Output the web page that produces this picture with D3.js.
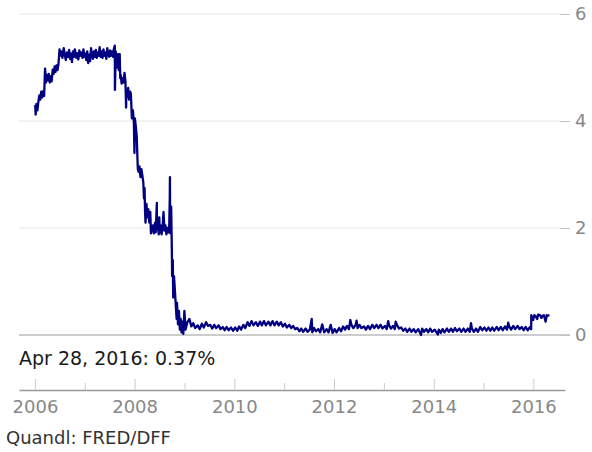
<!DOCTYPE html>
<meta charset="utf-8">
<style>
body { margin: 0; background: #fff; }
svg text { font-family: "DejaVu Sans", sans-serif; }
.yaxis text, .xaxis text { fill: #888; font-size: 18px; }
</style>
<script src="https://d3js.org/d3.v7.min.js"></script>
<div id="chart"></div>
<script>

// effective federal funds rate (date, percent)
var rateSeries = [
  ["2006-01-03",4.30],["2006-01-06",4.12],["2006-01-12",4.32],["2006-01-19",4.20],["2006-01-26",4.36],
  ["2006-02-02",4.48],["2006-02-09",4.40],["2006-02-16",4.55],["2006-02-23",4.44],["2006-03-02",4.56],
  ["2006-03-09",4.47],["2006-03-16",4.98],["2006-03-23",4.72],["2006-03-29",4.86],["2006-04-05",4.76],
  ["2006-04-12",4.88],["2006-04-19",4.72],["2006-04-26",4.84],["2006-05-03",4.74],["2006-05-11",4.96],
  ["2006-05-18",4.88],["2006-05-25",5.02],["2006-06-01",4.92],["2006-06-08",5.04],["2006-06-15",4.95],
  ["2006-06-22",5.06],["2006-06-30",5.34],
  ["2006-07-06",5.22],["2006-07-14",5.30],["2006-07-21",5.18],["2006-07-31",5.36],["2006-08-07",5.24],
  ["2006-08-15",5.14],["2006-08-23",5.28],["2006-08-31",5.20],["2006-09-08",5.33],["2006-09-15",5.16],
  ["2006-09-22",5.26],["2006-09-29",5.10],["2006-10-06",5.30],["2006-10-13",5.20],["2006-10-20",5.34],
  ["2006-10-31",5.18],["2006-11-07",5.27],["2006-11-15",5.15],["2006-11-22",5.32],["2006-11-30",5.22],
  ["2006-12-07",5.28],["2006-12-15",5.18],["2006-12-22",5.34],["2006-12-29",5.20],
  ["2007-01-05",5.26],["2007-01-12",5.14],["2007-01-19",5.30],["2007-01-26",5.08],["2007-02-02",5.24],
  ["2007-02-09",5.12],["2007-02-16",5.36],["2007-02-23",5.22],["2007-03-02",5.16],["2007-03-09",5.30],
  ["2007-03-16",5.20],["2007-03-23",5.33],["2007-03-30",5.18],["2007-04-06",5.28],["2007-04-13",5.22],
  ["2007-04-20",5.38],["2007-04-27",5.20],["2007-05-04",5.30],["2007-05-11",5.18],["2007-05-18",5.34],
  ["2007-05-25",5.22],["2007-06-01",5.28],["2007-06-08",5.16],["2007-06-15",5.36],["2007-06-22",5.24],
  ["2007-06-29",5.20],["2007-07-06",5.32],["2007-07-13",5.22],["2007-07-20",5.30],["2007-07-27",5.20],
  ["2007-08-03",5.36],["2007-08-09",5.41],["2007-08-10",4.58],["2007-08-16",5.30],["2007-08-23",5.00],
  ["2007-08-31",5.25],["2007-09-07",4.95],["2007-09-14",5.25],["2007-09-18",4.80],["2007-09-21",4.86],
  ["2007-09-28",4.70],["2007-10-05",4.80],["2007-10-12",4.72],["2007-10-19",4.90],["2007-10-26",4.74],
  ["2007-10-31",4.25],["2007-11-01",4.55],["2007-11-08",4.45],["2007-11-15",4.62],["2007-11-21",4.40],
  ["2007-11-30",4.55],["2007-12-05",4.50],["2007-12-12",4.05],["2007-12-20",4.20],["2007-12-27",3.95],
  ["2007-12-31",3.40],["2008-01-03",4.05],["2008-01-10",3.90],["2008-01-17",3.70],["2008-01-22",3.30],
  ["2008-01-25",3.10],["2008-01-30",3.05],["2008-02-06",3.15],["2008-02-13",2.95],["2008-02-20",3.10],
  ["2008-02-27",2.98],["2008-03-05",2.85],["2008-03-10",2.55],["2008-03-14",2.75],["2008-03-18",2.30],
  ["2008-03-21",2.10],["2008-03-28",2.45],["2008-04-04",2.20],["2008-04-11",2.35],["2008-04-18",2.10],
  ["2008-04-25",2.30],["2008-04-30",1.90],["2008-05-07",1.98],["2008-05-14",2.05],["2008-05-21",1.90],
  ["2008-05-30",2.10],["2008-06-04",1.92],["2008-06-12",2.47],["2008-06-13",1.98],["2008-06-19",2.05],
  ["2008-06-26",1.88],["2008-06-30",2.20],["2008-07-03",1.92],["2008-07-10",2.05],["2008-07-17",1.88],
  ["2008-07-24",2.02],["2008-07-31",2.30],["2008-08-07",1.95],["2008-08-14",2.05],["2008-08-21",1.88],
  ["2008-08-28",2.00],["2008-09-04",1.92],["2008-09-11",2.05],["2008-09-15",2.60],["2008-09-16",2.95],
  ["2008-09-18",1.90],["2008-09-19",2.10],["2008-09-25",2.40],["2008-09-30",1.60],["2008-10-02",1.10],
  ["2008-10-07",1.40],["2008-10-10",0.70],["2008-10-16",1.10],["2008-10-22",0.85],["2008-10-29",0.55],
  ["2008-11-04",0.30],["2008-11-07",0.60],["2008-11-14",0.20],["2008-11-21",0.45],["2008-11-28",0.10],
  ["2008-12-04",0.30],["2008-12-10",0.05],["2008-12-17",0.25],["2008-12-23",0.02],["2008-12-31",0.45],
  ["2009-01-08",0.10],["2009-01-22",0.24],["2009-02-06",0.30],["2009-02-20",0.16],["2009-03-06",0.22],
  ["2009-03-20",0.13],["2009-04-08",0.18],["2009-04-22",0.11],["2009-05-08",0.21],["2009-05-22",0.14],
  ["2009-06-08",0.24],["2009-06-22",0.17],["2009-07-08",0.19],["2009-07-22",0.12],["2009-08-07",0.19],
  ["2009-08-21",0.13],["2009-09-08",0.18],["2009-09-22",0.11],["2009-10-08",0.15],["2009-10-22",0.09],
  ["2009-11-06",0.15],["2009-11-20",0.09],["2009-12-08",0.14],["2009-12-22",0.08],
  ["2010-01-08",0.14],["2010-01-22",0.08],["2010-02-05",0.16],["2010-02-19",0.10],["2010-03-08",0.19],
  ["2010-03-22",0.13],["2010-04-08",0.24],["2010-04-22",0.17],["2010-05-07",0.26],["2010-05-21",0.18],
  ["2010-06-08",0.24],["2010-06-22",0.17],["2010-07-08",0.25],["2010-07-22",0.18],["2010-08-06",0.26],
  ["2010-08-20",0.18],["2010-09-08",0.25],["2010-09-22",0.18],["2010-10-08",0.26],["2010-10-22",0.18],
  ["2010-11-08",0.25],["2010-11-22",0.18],["2010-12-08",0.24],["2010-12-22",0.16],
  ["2011-01-07",0.21],["2011-01-21",0.14],["2011-02-08",0.19],["2011-02-22",0.13],["2011-03-08",0.17],
  ["2011-03-22",0.11],["2011-04-08",0.13],["2011-04-22",0.07],["2011-05-06",0.12],["2011-05-20",0.06],
  ["2011-06-08",0.12],["2011-06-22",0.06],["2011-07-08",0.10],["2011-07-22",0.30],["2011-07-26",0.05],
  ["2011-08-08",0.13],["2011-08-22",0.07],["2011-09-08",0.11],["2011-09-22",0.05],["2011-10-07",0.20],
  ["2011-10-21",0.05],["2011-11-08",0.11],["2011-11-22",0.05],["2011-12-08",0.19],["2011-12-22",0.04],
  ["2012-01-06",0.11],["2012-01-20",0.05],["2012-02-08",0.13],["2012-02-22",0.07],["2012-03-08",0.16],
  ["2012-03-22",0.10],["2012-04-06",0.17],["2012-04-20",0.11],["2012-04-30",0.28],["2012-05-08",0.19],
  ["2012-05-22",0.13],["2012-06-08",0.19],["2012-06-15",0.27],["2012-06-22",0.13],["2012-07-06",0.19],
  ["2012-07-20",0.13],["2012-08-08",0.16],["2012-08-22",0.10],["2012-09-07",0.17],["2012-09-21",0.11],
  ["2012-10-08",0.19],["2012-10-22",0.13],["2012-11-08",0.19],["2012-11-22",0.13],["2012-12-07",0.19],
  ["2012-12-21",0.12],
  ["2013-01-08",0.17],["2013-01-22",0.11],["2013-02-01",0.26],["2013-02-08",0.18],["2013-02-22",0.12],
  ["2013-03-08",0.17],["2013-03-22",0.11],["2013-03-28",0.25],["2013-04-08",0.18],["2013-04-22",0.12],
  ["2013-05-08",0.14],["2013-05-22",0.08],["2013-06-07",0.12],["2013-06-21",0.06],["2013-07-08",0.12],
  ["2013-07-22",0.06],["2013-08-08",0.11],["2013-08-22",0.05],["2013-09-09",0.11],["2013-09-30",0.00],
  ["2013-10-08",0.12],["2013-10-22",0.06],["2013-11-08",0.11],["2013-11-22",0.05],["2013-12-06",0.12],
  ["2013-12-20",0.06],
  ["2014-01-08",0.10],["2014-01-31",0.01],["2014-02-07",0.10],["2014-02-21",0.04],["2014-03-07",0.11],
  ["2014-03-21",0.05],["2014-04-08",0.12],["2014-04-22",0.06],["2014-05-08",0.12],["2014-05-22",0.06],
  ["2014-06-06",0.13],["2014-06-20",0.07],["2014-07-08",0.12],["2014-07-22",0.06],["2014-08-08",0.12],
  ["2014-08-22",0.06],["2014-09-08",0.12],["2014-09-22",0.06],["2014-10-01",0.22],["2014-10-08",0.12],
  ["2014-10-22",0.06],["2014-11-07",0.12],["2014-11-21",0.06],["2014-12-08",0.15],["2014-12-22",0.09],
  ["2015-01-08",0.14],["2015-01-22",0.08],["2015-02-06",0.14],["2015-02-20",0.08],["2015-03-06",0.14],
  ["2015-03-20",0.08],["2015-04-08",0.15],["2015-04-22",0.09],["2015-05-08",0.15],["2015-05-22",0.09],
  ["2015-06-08",0.16],["2015-06-22",0.10],["2015-07-01",0.23],["2015-07-08",0.16],["2015-07-22",0.10],
  ["2015-08-07",0.17],["2015-08-21",0.11],["2015-09-08",0.17],["2015-09-22",0.11],["2015-10-08",0.15],
  ["2015-10-22",0.09],["2015-11-06",0.15],["2015-11-20",0.09],["2015-12-08",0.15],["2015-12-16",0.11],
  ["2015-12-17",0.37],["2015-12-24",0.33],["2015-12-31",0.28],
  ["2016-01-08",0.37],["2016-01-15",0.36],["2016-01-29",0.30],["2016-02-05",0.38],["2016-02-19",0.37],
  ["2016-02-29",0.32],["2016-03-08",0.36],["2016-03-18",0.37],["2016-03-31",0.25],["2016-04-08",0.37],
  ["2016-04-15",0.36],["2016-04-28",0.37]
];

var yTickValues = [0, 2, 4, 6];
var xDomain = ["2005-09-06", "2016-08-20"];
var sourceLabel = "Quandl: FRED/DFF";

var W = 592, H = 452;
var plot = {left: 19, right: 560, top: 14, bottom: 335};
var axisY = 390;

var parseDate = d3.timeParse("%Y-%m-%d");
var data = rateSeries.map(function(d) { return {date: parseDate(d[0]), value: d[1]}; });

var svg = d3.select("#chart").append("svg")
    .attr("width", W)
    .attr("height", H);

var x = d3.scaleTime()
    .domain(xDomain.map(parseDate))
    .range([plot.left, 565]);

var y = d3.scaleLinear()
    .domain([0, 6])
    .range([plot.bottom, plot.top]);

// gridlines
svg.append("g").selectAll("line")
  .data(yTickValues.filter(function(d) { return d > 0; }))
  .enter().append("line")
    .attr("x1", plot.left)
    .attr("x2", plot.right)
    .attr("y1", function(d) { return y(d); })
    .attr("y2", function(d) { return y(d); })
    .attr("stroke", "#e6e6e6")
    .attr("stroke-width", 1);

// zero line
svg.append("line")
    .attr("x1", plot.left)
    .attr("x2", 570)
    .attr("y1", y(0))
    .attr("y2", y(0))
    .attr("stroke", "#cccccc")
    .attr("stroke-width", 2);

// right y axis
var yAxis = svg.append("g")
    .attr("class", "yaxis")
    .attr("transform", "translate(" + plot.right + ",0)")
    .call(d3.axisRight(y).tickValues(yTickValues).tickSize(10).tickPadding(5).tickFormat(d3.format("d")));
yAxis.select(".domain").remove();
yAxis.selectAll(".tick line").attr("stroke", "#c4c4c4");

// the rate line
var line = d3.line()
    .x(function(d) { return x(d.date); })
    .y(function(d) { return y(d.value); });

svg.append("path")
    .datum(data)
    .attr("fill", "none")
    .attr("stroke", "#000080")
    .attr("stroke-width", 2.3)
    .attr("stroke-linejoin", "round")
    .attr("d", line);

// last value readout
var last = data[data.length - 1];
svg.append("text")
    .attr("x", plot.left)
    .attr("y", 365)
    .style("font-size", "19px")
    .style("fill", "#1a1a1a")
    .text(d3.timeFormat("%b %-d, %Y")(last.date) + ": " + d3.format(".2f")(last.value) + "%");

// bottom time axis, ticks pointing up
var xAxis = svg.append("g")
    .attr("class", "xaxis")
    .attr("transform", "translate(0," + axisY + ")")
    .call(d3.axisBottom(x)
      .ticks(d3.timeYear.every(1))
      .tickSize(-11)
      .tickSizeOuter(0)
      .tickPadding(10)
      .tickFormat(function(d) { return d.getFullYear() % 2 === 0 ? d.getFullYear() : ""; }));
xAxis.select(".domain").attr("stroke", "#999").attr("stroke-width", 1.5);
xAxis.selectAll(".tick line")
    .attr("stroke", "#cccccc")
    .attr("y2", function(d) { return d.getFullYear() % 2 === 0 ? -11 : -7; });

svg.append("text")
    .attr("x", 6)
    .attr("y", 444)
    .style("font-size", "18px")
    .style("fill", "#333")
    .text(sourceLabel);

</script>
